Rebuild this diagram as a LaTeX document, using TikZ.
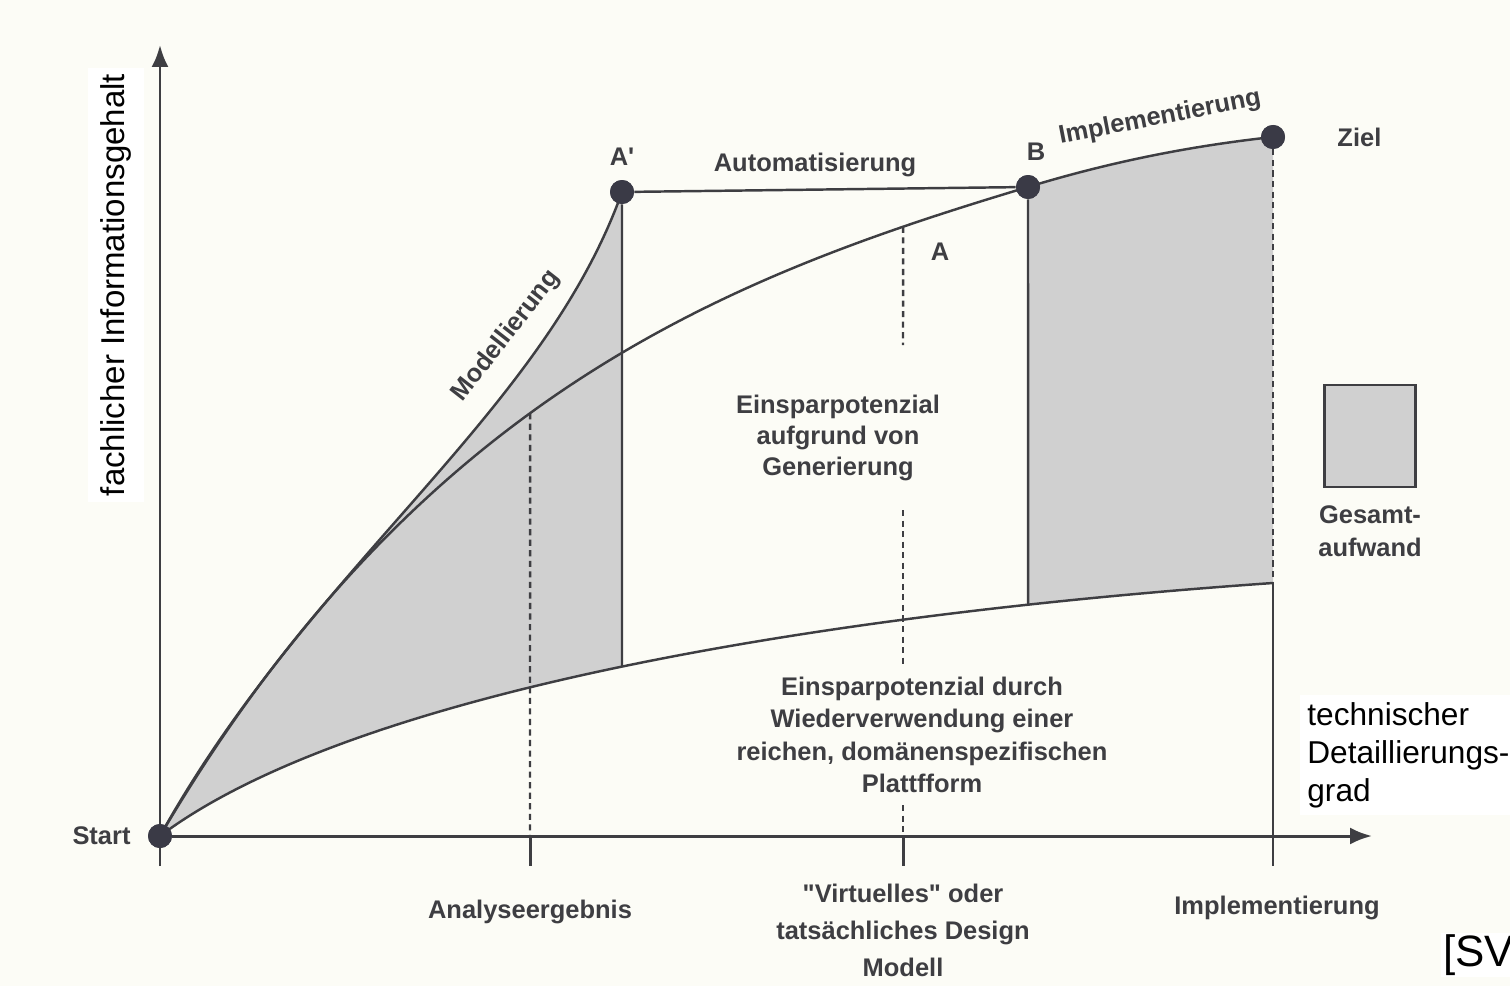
\documentclass[tikz,border=0pt]{standalone}
\usepackage{fontspec}
\setmainfont{Liberation Sans}
\usetikzlibrary{positioning,calc,arrows.meta,intersections}

\definecolor{paper}{RGB}{252,252,246}
\definecolor{ink}{RGB}{62,62,66}
\definecolor{effort}{RGB}{208,208,208}
\definecolor{dotc}{RGB}{58,58,70}

% straight quote glyphs (no TeX ligature mapping)
\newcommand{\dquote}{\XeTeXglyph\XeTeXcharglyph"22\relax}
\newcommand{\squote}{\XeTeXglyph\XeTeXcharglyph"27\relax}

\newcommand{\curveup}{(160,836) .. controls (310,566) and (542,416) .. (622,192)}
\newcommand{\curvemid}{(160,836) .. controls (420,394) and (728,277) .. (1028,187) .. controls (1110,162) and (1190,146) .. (1273,137)}
\newcommand{\curvelow}{(160,836) .. controls (340,701) and (773,618) .. (1273,583)}

\begin{document}
\begin{tikzpicture}[x=0.02cm,y=-0.02cm,>={Latex[length=0.44cm,width=0.34cm]},
    axis/.style={line width=1.7pt,draw=ink},
    curve/.style={line width=1.4pt,draw=ink},
    guide/.style={line width=1.4pt,draw=ink,dash pattern=on 3.5pt off 2.5pt},
    dot/.style={circle,fill=dotc,inner sep=0pt,minimum size=0.48cm},
    lbl/.style={font=\bfseries\fontsize{14.5}{18.4}\selectfont,text=ink,align=center,inner sep=1pt},
    note/.style={font=\fontsize{18}{21.7}\selectfont,text=black,fill=white}]
            \useasboundingbox (0,0) rectangle (1510,986);
            \fill[paper] (0,0) rectangle (1510,986);

            % shaded effort areas
            \begin{scope}
                \clip (160,0) rectangle (622,986);
                \fill[effort] \curveup -- (622,836) -- (160,836) -- cycle;
            \end{scope}
            \begin{scope}
                \clip (1028,0) rectangle (1273,986);
                \fill[effort] \curvemid -- (1273,836) -- (160,836) -- cycle;
            \end{scope}
            \fill[paper] \curvelow -- (1273,836) -- (160,836) -- cycle;

            \node[dot] (start) at (160,836) {};
            \node[dot] (aprime) at (622,192) {};
            \node[dot] (bpt) at (1028,187) {};
            \node[dot] (ziel) at (1273,137) {};

            \coordinate (ytop) at (160,45);
            \coordinate (xend) at (1372,836);

            \draw[axis] (160,866) -- (start);
            \draw[axis,->] (start) -- (ytop);
            \draw[axis,->] (start) -- (xend);

            \draw[curve] \curveup;
            \draw[curve,name path=mid] \curvemid;
            \draw[curve,name path=low] \curvelow;

            % where the verticals meet the curves
            \path[name path=va] (530,0) -- (530,986);
            \path[name path=vap] (622,0) -- (622,986);
            \path[name path=vd] (903,0) -- (903,986);
            \path[name path=vb] (1028,0) -- (1028,986);
            \path[name intersections={of=mid and va,by=mida}];
            \path[name intersections={of=mid and vd,by=midd}];
            \path[name intersections={of=low and vap,by=lowap}];
            \path[name intersections={of=low and vb,by=lowb}];
            \coordinate (lowz) at (1273,583);

            \draw[curve] (aprime) -- (bpt);
            \draw[curve] (aprime) -- (lowap);
            \draw[curve] (bpt) -- (lowb);
            \draw[guide] (ziel) -- (lowz);
            \draw[curve] (lowz) -- (1273,866);

            \draw[guide] (mida) -- (530,836);
            \draw[axis] (530,836) -- (530,866);
            \draw[guide] (midd) -- (903,345);
            \draw[guide] (903,510) -- (903,665);
            \draw[guide] (903,805) -- (903,836);
            \draw[axis] (903,836) -- (903,866);

            \node[dot] at (start) {};
            \node[dot] at (aprime) {};
            \node[dot] at (bpt) {};
            \node[dot] at (ziel) {};

            % labels
            \node[lbl,left=0.3cm of start] (lstart) {Start};
            \node[lbl,above=0.25cm of aprime] (laprime) {A\squote};
            \node[lbl] (lauto) at (815,165) {Automatisierung};
            \node[lbl] (lb) at (1036,152) {B};
            \node[lbl,rotate=11] (limpltop) at (1160,118) {Implementierung};
            \node[lbl,right=1.0cm of ziel] (lziel) {Ziel};
            \node[lbl] (la) at (940,252) {A};
            \node[lbl,rotate=52] (lmod) at (506,336) {Modellierung};
            \node[lbl,font=\bfseries\fontsize{14.5}{17.9}\selectfont] (lgen) at (838,438) {Einsparpotenzial\\aufgrund von\\Generierung};
            \node[lbl] (lreuse) at (922,735) {Einsparpotenzial durch\\Wiederverwendung einer\\reichen, domänenspezifischen\\Plattfform};

            \node[draw=ink,line width=1.4pt,fill=effort,minimum width=1.82cm,minimum height=2.04cm] (legend) at (1370,436) {};
            \node[lbl,font=\bfseries\fontsize{14.5}{18.8}\selectfont,below=0.3cm of legend] (lgesamt) {Gesamt-\\aufwand};

            \node[lbl] (lana) at (530,912) {Analyseergebnis};
            \node[lbl,font=\bfseries\fontsize{14.5}{21}\selectfont] (ldesign) at (903,930) {\dquote Virtuelles\dquote{} oder\\tatsächliches Design\\Modell};
            \node[lbl] (limpl) at (1277,908) {Implementierung};

            \node[note,font=\fontsize{18.8}{21.7}\selectfont,rotate=90,minimum width=8.7cm,minimum height=1.14cm] (ylabel) at (116,285) {fachlicher Informationsgehalt};
            \node[note,align=left,anchor=west,inner sep=4pt] (xlabel) at (1300,755) {technischer\\Detaillierungs-\\grad};
            \node[note,font=\fontsize{25}{30}\selectfont,anchor=west,inner sep=1pt] (src) at (1441,955) {[SV};
            \end{tikzpicture}
\end{document}
